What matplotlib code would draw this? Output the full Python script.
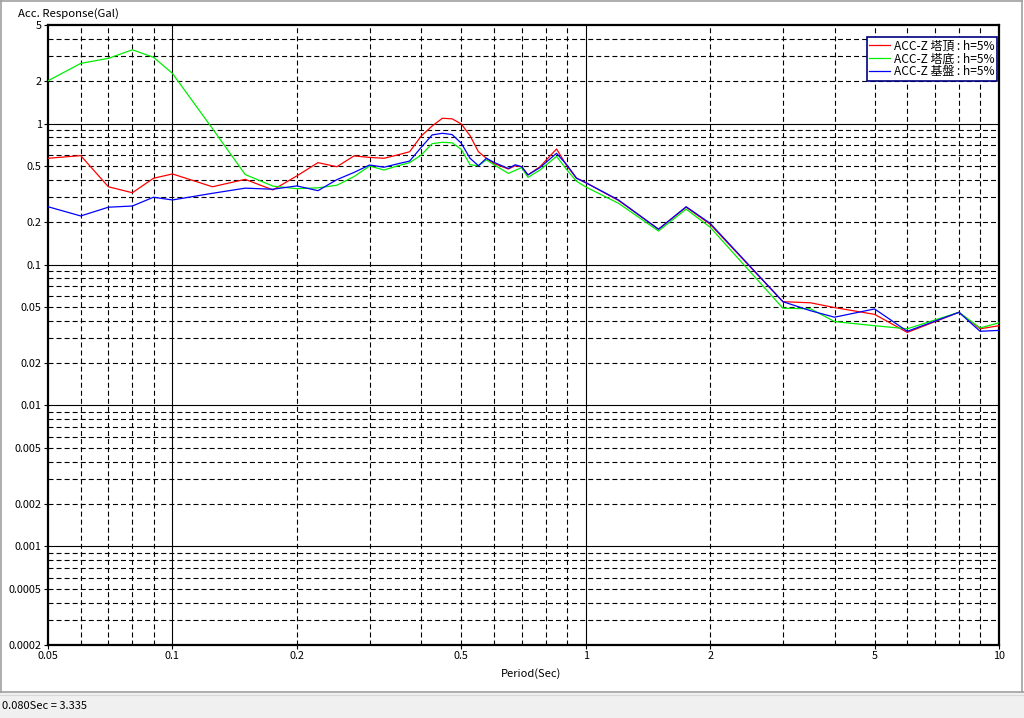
import matplotlib
matplotlib.use('Agg')
import matplotlib.pyplot as plt
from matplotlib.patches import Rectangle
from matplotlib.lines import Line2D

plt.rcParams['font.family'] = ['Noto Sans CJK JP', 'DejaVu Sans']
plt.rcParams['font.size'] = 7.5
plt.rcParams['lines.scale_dashes'] = False

# periods (sec) and acceleration response (Gal)
period = [0.05, 0.06, 0.07, 0.08, 0.09, 0.1, 0.125, 0.15, 0.175, 0.2,
          0.225, 0.25, 0.275, 0.3, 0.325, 0.35, 0.375, 0.4, 0.425, 0.45,
          0.475, 0.5, 0.525, 0.55, 0.575, 0.6, 0.65, 0.675, 0.7, 0.725,
          0.775, 0.85, 0.9, 0.95, 1.0, 1.2, 1.5, 1.75, 2.0, 3.0,
          3.5, 4.0, 5.0, 6.0, 8.0, 9.0, 10.0]
acc_top = [0.567, 0.592, 0.356, 0.323, 0.409, 0.439, 0.356, 0.402, 0.338, 0.425,
           0.528, 0.494, 0.589, 0.575, 0.567, 0.598, 0.631, 0.816, 0.96, 1.09,
           1.08, 0.993, 0.82, 0.631, 0.567, 0.52, 0.476, 0.502, 0.494, 0.432,
           0.494, 0.66, 0.502, 0.409, 0.381, 0.285, 0.178, 0.255, 0.193, 0.0545,
           0.0535, 0.0495, 0.0443, 0.0330, 0.0458, 0.0350, 0.0368]
acc_bottom = [2.01, 2.67, 2.90, 3.335, 2.95, 2.27, 0.92, 0.435, 0.36, 0.345,
              0.35, 0.365, 0.42, 0.50, 0.468, 0.50, 0.528, 0.598, 0.72, 0.736,
              0.73, 0.656, 0.51, 0.502, 0.552, 0.51, 0.443, 0.465, 0.487, 0.415,
              0.468, 0.585, 0.47, 0.39, 0.355, 0.272, 0.173, 0.247, 0.184, 0.049,
              0.0485, 0.0394, 0.0368, 0.0350, 0.0458, 0.0355, 0.0386]
acc_base = [0.257, 0.221, 0.255, 0.26, 0.30, 0.287, 0.32, 0.348, 0.342, 0.361,
            0.334, 0.40, 0.45, 0.508, 0.49, 0.517, 0.542, 0.678, 0.83, 0.853,
            0.835, 0.725, 0.567, 0.502, 0.567, 0.53, 0.48, 0.51, 0.494, 0.432,
            0.487, 0.615, 0.51, 0.41, 0.381, 0.287, 0.178, 0.257, 0.196, 0.0545,
            0.047, 0.0423, 0.0484, 0.0336, 0.0458, 0.0336, 0.0341]

labels = ['ACC-Z 塔頂 : h=5%', 'ACC-Z 塔底 : h=5%', 'ACC-Z 基盤 : h=5%']
colors = ['#ff0000', '#00ee00', '#0000ff']

xticks = [0.05, 0.1, 0.2, 0.5, 1, 2, 5, 10]
yticks = [0.0002, 0.0005, 0.001, 0.002, 0.005, 0.01, 0.02, 0.05,
          0.1, 0.2, 0.5, 1, 2, 5]

W, H = 1024, 718
fig = plt.figure(figsize=(W / 100, H / 100), dpi=100)
ax = fig.add_axes([48 / W, 1 - 645 / H, 951 / W, 620 / H])
ax.set_xscale('log')
ax.set_yscale('log')
ax.set_xlim(0.05, 10)
ax.set_ylim(0.0002, 5)

# grid: solid at decades, dashed at 2..9
dash = (0, (3.6, 2.2))
for dec in [0.01, 0.1, 1]:
    for m in range(1, 10):
        v = m * dec
        if 0.05 < v < 10:
            ax.axvline(v, color='black', lw=0.8,
                       ls='-' if m == 1 else dash, zorder=1)
for dec in [0.0001, 0.001, 0.01, 0.1, 1]:
    for m in range(1, 10):
        v = m * dec
        if 0.0002 < v < 5:
            ax.axhline(v, color='black', lw=0.8,
                       ls='-' if m == 1 else dash, zorder=1)

for ys, c, lab in zip([acc_top, acc_bottom, acc_base], colors, labels):
    ax.plot(period, ys, color=c, lw=0.9, label=lab, zorder=3)

ax.xaxis.set_major_locator(matplotlib.ticker.FixedLocator(xticks))
ax.yaxis.set_major_locator(matplotlib.ticker.FixedLocator(yticks))
ax.xaxis.set_minor_locator(matplotlib.ticker.NullLocator())
ax.yaxis.set_minor_locator(matplotlib.ticker.NullLocator())
ax.set_xticklabels(['%g' % t for t in xticks])
ax.set_yticklabels(['%g' % t for t in yticks])
ax.tick_params(length=3, width=0.8, pad=1.5, labelsize=7.8)
for s in ax.spines.values():
    s.set_linewidth(1.6)

ax.set_xlabel('Period(Sec)', labelpad=0, fontsize=8)
ax.xaxis.set_label_coords((531 - 48) / 951, -(668 - 645) / 620)

leg = ax.legend(loc='upper right', bbox_to_anchor=((997 - 48) / 951, 1 - 12 / 620),
                borderaxespad=0, fancybox=False, edgecolor='#000080', framealpha=1,
                handlelength=1.8, handletextpad=0.3, labelspacing=0.0,
                borderpad=0.2, fontsize=8.6)
leg.get_frame().set_linewidth(1.2)

fig.text(18 / W, 1 - 14 / H, 'Acc. Response(Gal)', ha='left', va='center', fontsize=8.2)

# window frame and status bar
fig.add_artist(Rectangle((0, 0), 1, 25 / H, transform=fig.transFigure,
                         facecolor='#f0f0f0', edgecolor='none'))
fig.add_artist(Line2D([0, 1], [1 - 692 / H] * 2, transform=fig.transFigure,
                      color='#a0a0a0', lw=1.2))
fig.add_artist(Line2D([0, 1], [1 - 695 / H] * 2, transform=fig.transFigure,
                      color='#d8d8d8', lw=0.8))
fig.add_artist(Line2D([0.5 / W] * 2, [1 - 692 / H, 1], transform=fig.transFigure,
                      color='#a0a0a0', lw=1.2))
fig.add_artist(Line2D([0, 1022 / W], [1 - 0.5 / H] * 2, transform=fig.transFigure,
                      color='#a0a0a0', lw=1.2))
fig.add_artist(Line2D([1022 / W] * 2, [1 - 692 / H, 1], transform=fig.transFigure,
                      color='#a0a0a0', lw=1.2))
fig.text(2 / W, 1 - 706 / H, '0.080Sec = 3.335', ha='left', va='center', fontsize=8)

fig.savefig('out.png', dpi=100)
